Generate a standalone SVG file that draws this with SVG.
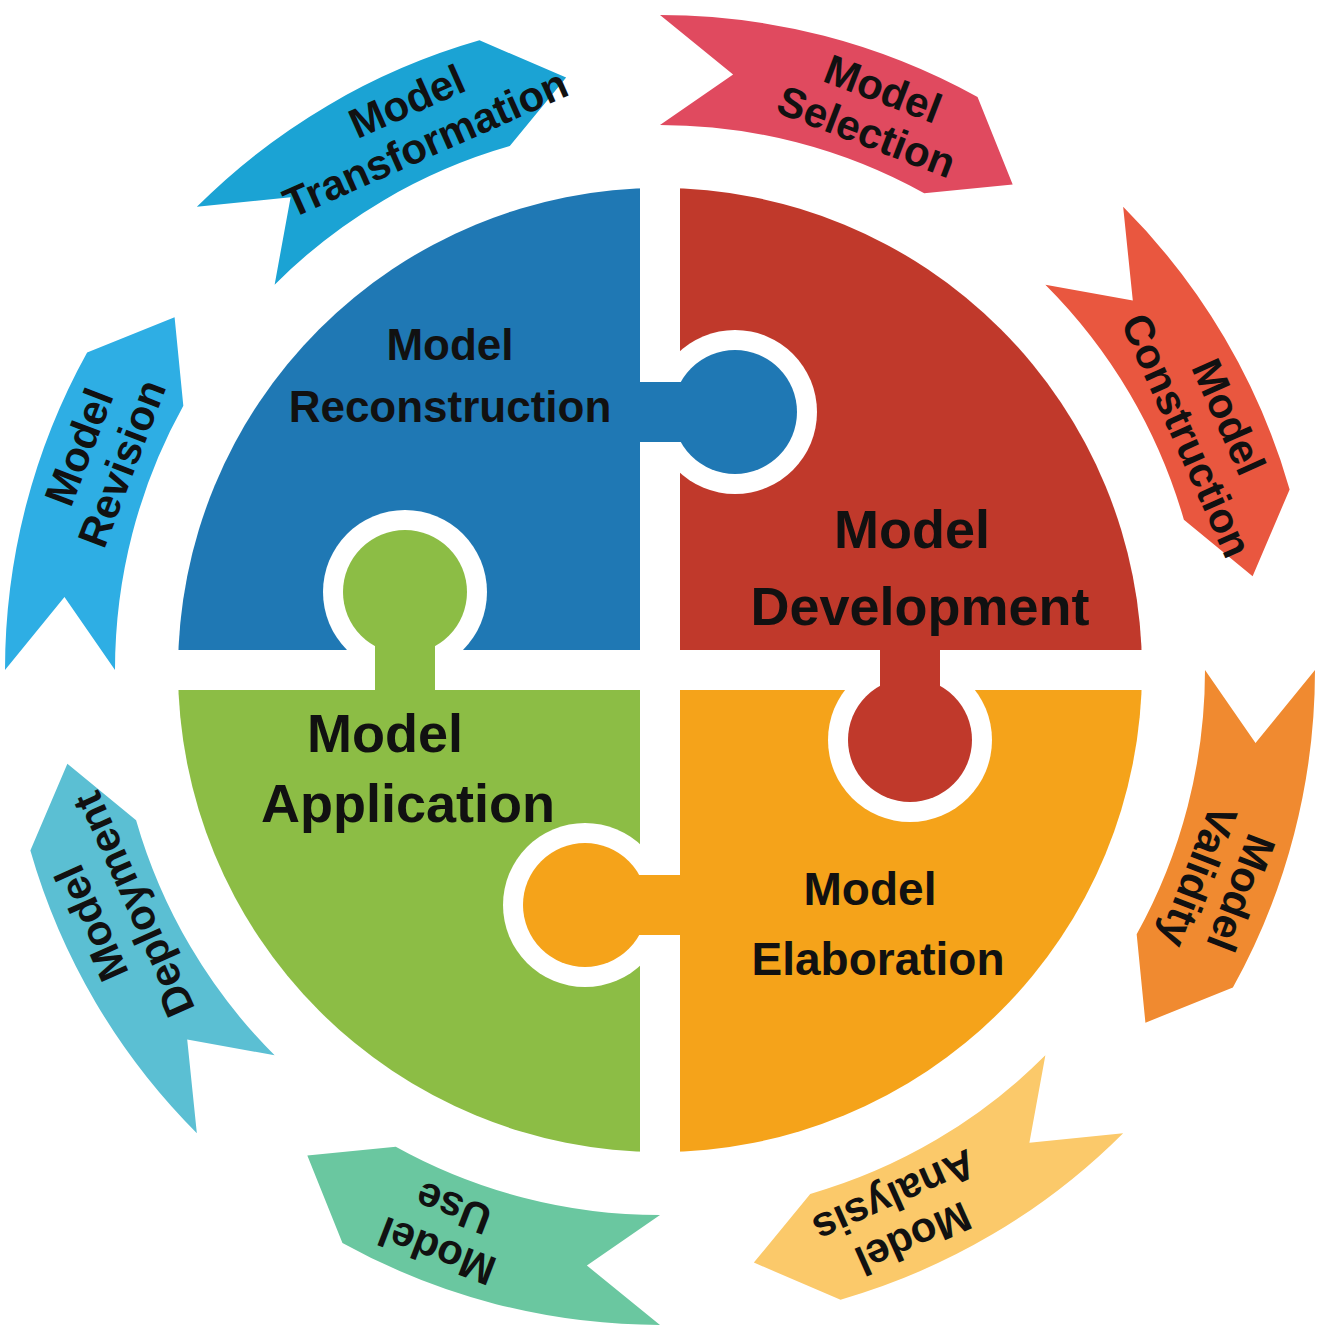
<svg xmlns="http://www.w3.org/2000/svg" width="1320" height="1343" viewBox="0 0 1320 1343">
<style>
text{font-family:"Liberation Sans",Arial,sans-serif;font-weight:bold;fill:#111;text-anchor:middle}
.r{font-size:42px}
</style>
<defs>
<clipPath id="c"><circle cx="660" cy="670" r="482"/></clipPath>
<path id="seg" d="M1314.60,692.86 A655,655 0 0 1 1221.45,1007.35 L1132.81,1039.40 L1127.16,950.70 A545,545 0 0 0 1204.67,689.02 L1252.61,763.86 Z"/>
</defs>
<rect width="1320" height="1343" fill="#fff"/>
<g id="connectors">
<use id="selection" href="#seg" fill="#e04a5f" transform="rotate(-92 660 670)"/>
<use id="construction" href="#seg" fill="#e9573f" transform="rotate(-47 660 670)"/>
<use id="validity" href="#seg" fill="#f08a30" transform="rotate(-2 660 670)"/>
<use id="analysis" href="#seg" fill="#fbc96a" transform="rotate(43 660 670)"/>
<use id="use" href="#seg" fill="#6ac7a0" transform="rotate(88 660 670)"/>
<use id="deployment" href="#seg" fill="#5bbfd3" transform="rotate(133 660 670)"/>
<use id="revision" href="#seg" fill="#2eaee4" transform="rotate(178 660 670)"/>
<use id="transformation" href="#seg" fill="#1ba3d4" transform="rotate(223 660 670)"/>
</g>
<g id="ring-labels" class="r">
<g transform="rotate(-69 660 670)"><g transform="rotate(90 1260 670)"><text x="1260" y="662">Model</text><text x="1260" y="708">Selection</text></g></g>
<g transform="rotate(-24 660 670)"><g transform="rotate(90 1260 670)"><text x="1260" y="662">Model</text><text x="1260" y="708">Construction</text></g></g>
<g transform="rotate(21 660 670)"><g transform="rotate(90 1260 670)"><text x="1260" y="662">Model</text><text x="1260" y="708">Validity</text></g></g>
<g transform="rotate(66 660 670)"><g transform="rotate(90 1260 670)"><text x="1260" y="662">Model</text><text x="1260" y="708">Analysis</text></g></g>
<g transform="rotate(111 660 670)"><g transform="rotate(90 1260 670)"><text x="1260" y="662">Model</text><text x="1260" y="708">Use</text></g></g>
<g transform="rotate(156 660 670)"><g transform="rotate(90 1260 670)"><text x="1260" y="662">Model</text><text x="1260" y="708">Deployment</text></g></g>
<g transform="rotate(201 660 670)"><g transform="rotate(90 1260 670)"><text x="1260" y="662">Model</text><text x="1260" y="708">Revision</text></g></g>
<g transform="rotate(246 660 670)"><g transform="rotate(90 1260 670)"><text x="1260" y="662">Model</text><text x="1260" y="708">Transformation</text></g></g>
</g>
<g id="quadrants">
<g clip-path="url(#c)">
<rect id="blue" x="170" y="180" width="470" height="470" fill="#1f78b4"/>
<rect id="red" x="680" y="180" width="470" height="470" fill="#c0392b"/>
<rect id="green" x="170" y="690" width="470" height="470" fill="#8cbd45"/>
<rect id="orange" x="680" y="690" width="470" height="470" fill="#f5a31a"/>
</g>
<g fill="#fff">
<circle cx="735" cy="412" r="82"/><rect x="640" y="362" width="80" height="100"/>
<circle cx="910" cy="740" r="82"/><rect x="860" y="650" width="100" height="80"/>
<circle cx="585" cy="905" r="82"/><rect x="600" y="855" width="80" height="100"/>
<circle cx="405" cy="592" r="82"/><rect x="355" y="610" width="100" height="80"/>
</g>
<circle cx="735" cy="412" r="62" fill="#1f78b4"/><rect x="620" y="382" width="100" height="60" fill="#1f78b4"/>
<circle cx="910" cy="740" r="62" fill="#c0392b"/><rect x="880" y="630" width="60" height="100" fill="#c0392b"/>
<circle cx="585" cy="905" r="62" fill="#f5a31a"/><rect x="600" y="875" width="100" height="60" fill="#f5a31a"/>
<circle cx="405" cy="592" r="62" fill="#8cbd45"/><rect x="375" y="610" width="60" height="100" fill="#8cbd45"/>
</g>
<g id="labels">
<text x="450" y="360" font-size="44">Model</text><text x="450" y="422" font-size="44">Reconstruction</text>
<text x="912" y="548" font-size="54">Model</text><text x="920" y="625" font-size="54">Development</text>
<text x="385" y="752" font-size="54">Model</text><text x="408" y="822" font-size="54">Application</text>
<text x="870" y="905" font-size="46">Model</text><text x="878" y="975" font-size="46">Elaboration</text>
</g>
</svg>
